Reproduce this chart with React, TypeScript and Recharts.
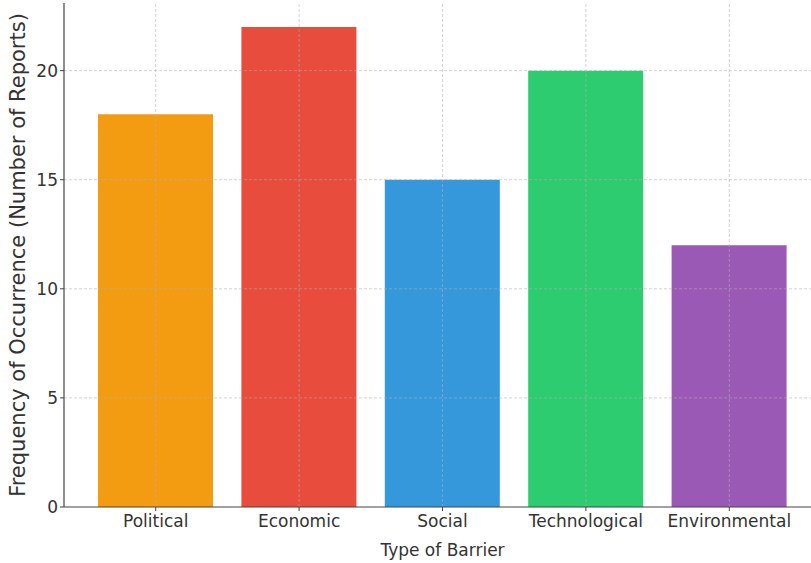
import { BarChart, Bar, XAxis, YAxis, Cell, ReferenceLine } from "recharts";

const barriers = ["Political", "Economic", "Social", "Technological", "Environmental"];
const reports = [18, 22, 15, 20, 12];
const barColors = ["#f39c12", "#e74c3c", "#3498db", "#2ecc71", "#9b59b6"];
const yTicks = [0, 5, 10, 15, 20];

const data = barriers.map((name, i) => ({ name, value: reports[i] }));

const font = "'DejaVu Sans', sans-serif";
const axisColor = "#444";
const gridStyle = { stroke: "#b0b0b0", strokeOpacity: 0.55, strokeDasharray: "3 2" };

export default function App() {
  return (
    <div
      style={{
        position: "absolute",
        left: 0,
        top: 0,
        width: 811,
        height: 563,
        overflow: "hidden",
        background: "#fff",
        fontFamily: font,
      }}
    >
      <BarChart
        width={830}
        height={563}
        data={data}
        margin={{ top: 3, right: 9, bottom: 0, left: 0 }}
      >
        <XAxis
          dataKey="name"
          height={56}
          padding={{ left: 20, right: 20 }}
          tickSize={4}
          tickMargin={4}
          tickLine={{ stroke: axisColor }}
          axisLine={{ stroke: axisColor, strokeWidth: 1.2 }}
          tick={{ fill: "#333", fontSize: 17, fontFamily: font }}
          interval={0}
          label={{
            value: "Type of Barrier",
            position: "insideBottom",
            offset: 7,
            fill: "#333",
            fontSize: 17,
            fontFamily: font,
          }}
        />
        <YAxis
          width={64}
          domain={[0, 23.1]}
          ticks={yTicks}
          tickSize={4}
          tickLine={{ stroke: axisColor }}
          axisLine={{ stroke: axisColor, strokeWidth: 1.2 }}
          tick={{ fill: "#333", fontSize: 17, fontFamily: font }}
          label={{
            value: "Frequency of Occurrence (Number of Reports)",
            angle: -90,
            position: "insideLeft",
            offset: 18,
            fill: "#333",
            fontSize: 21,
            fontFamily: font,
            style: { textAnchor: "middle" },
          }}
        />
        <Bar dataKey="value" barSize={115} isAnimationActive={false}>
          {data.map((d, i) => (
            <Cell key={d.name} fill={barColors[i]} />
          ))}
        </Bar>
        {yTicks.slice(1).map((v) => (
          <ReferenceLine key={`y${v}`} y={v} {...gridStyle} />
        ))}
        {barriers.map((b) => (
          <ReferenceLine key={`x${b}`} x={b} {...gridStyle} />
        ))}
      </BarChart>
    </div>
  );
}
